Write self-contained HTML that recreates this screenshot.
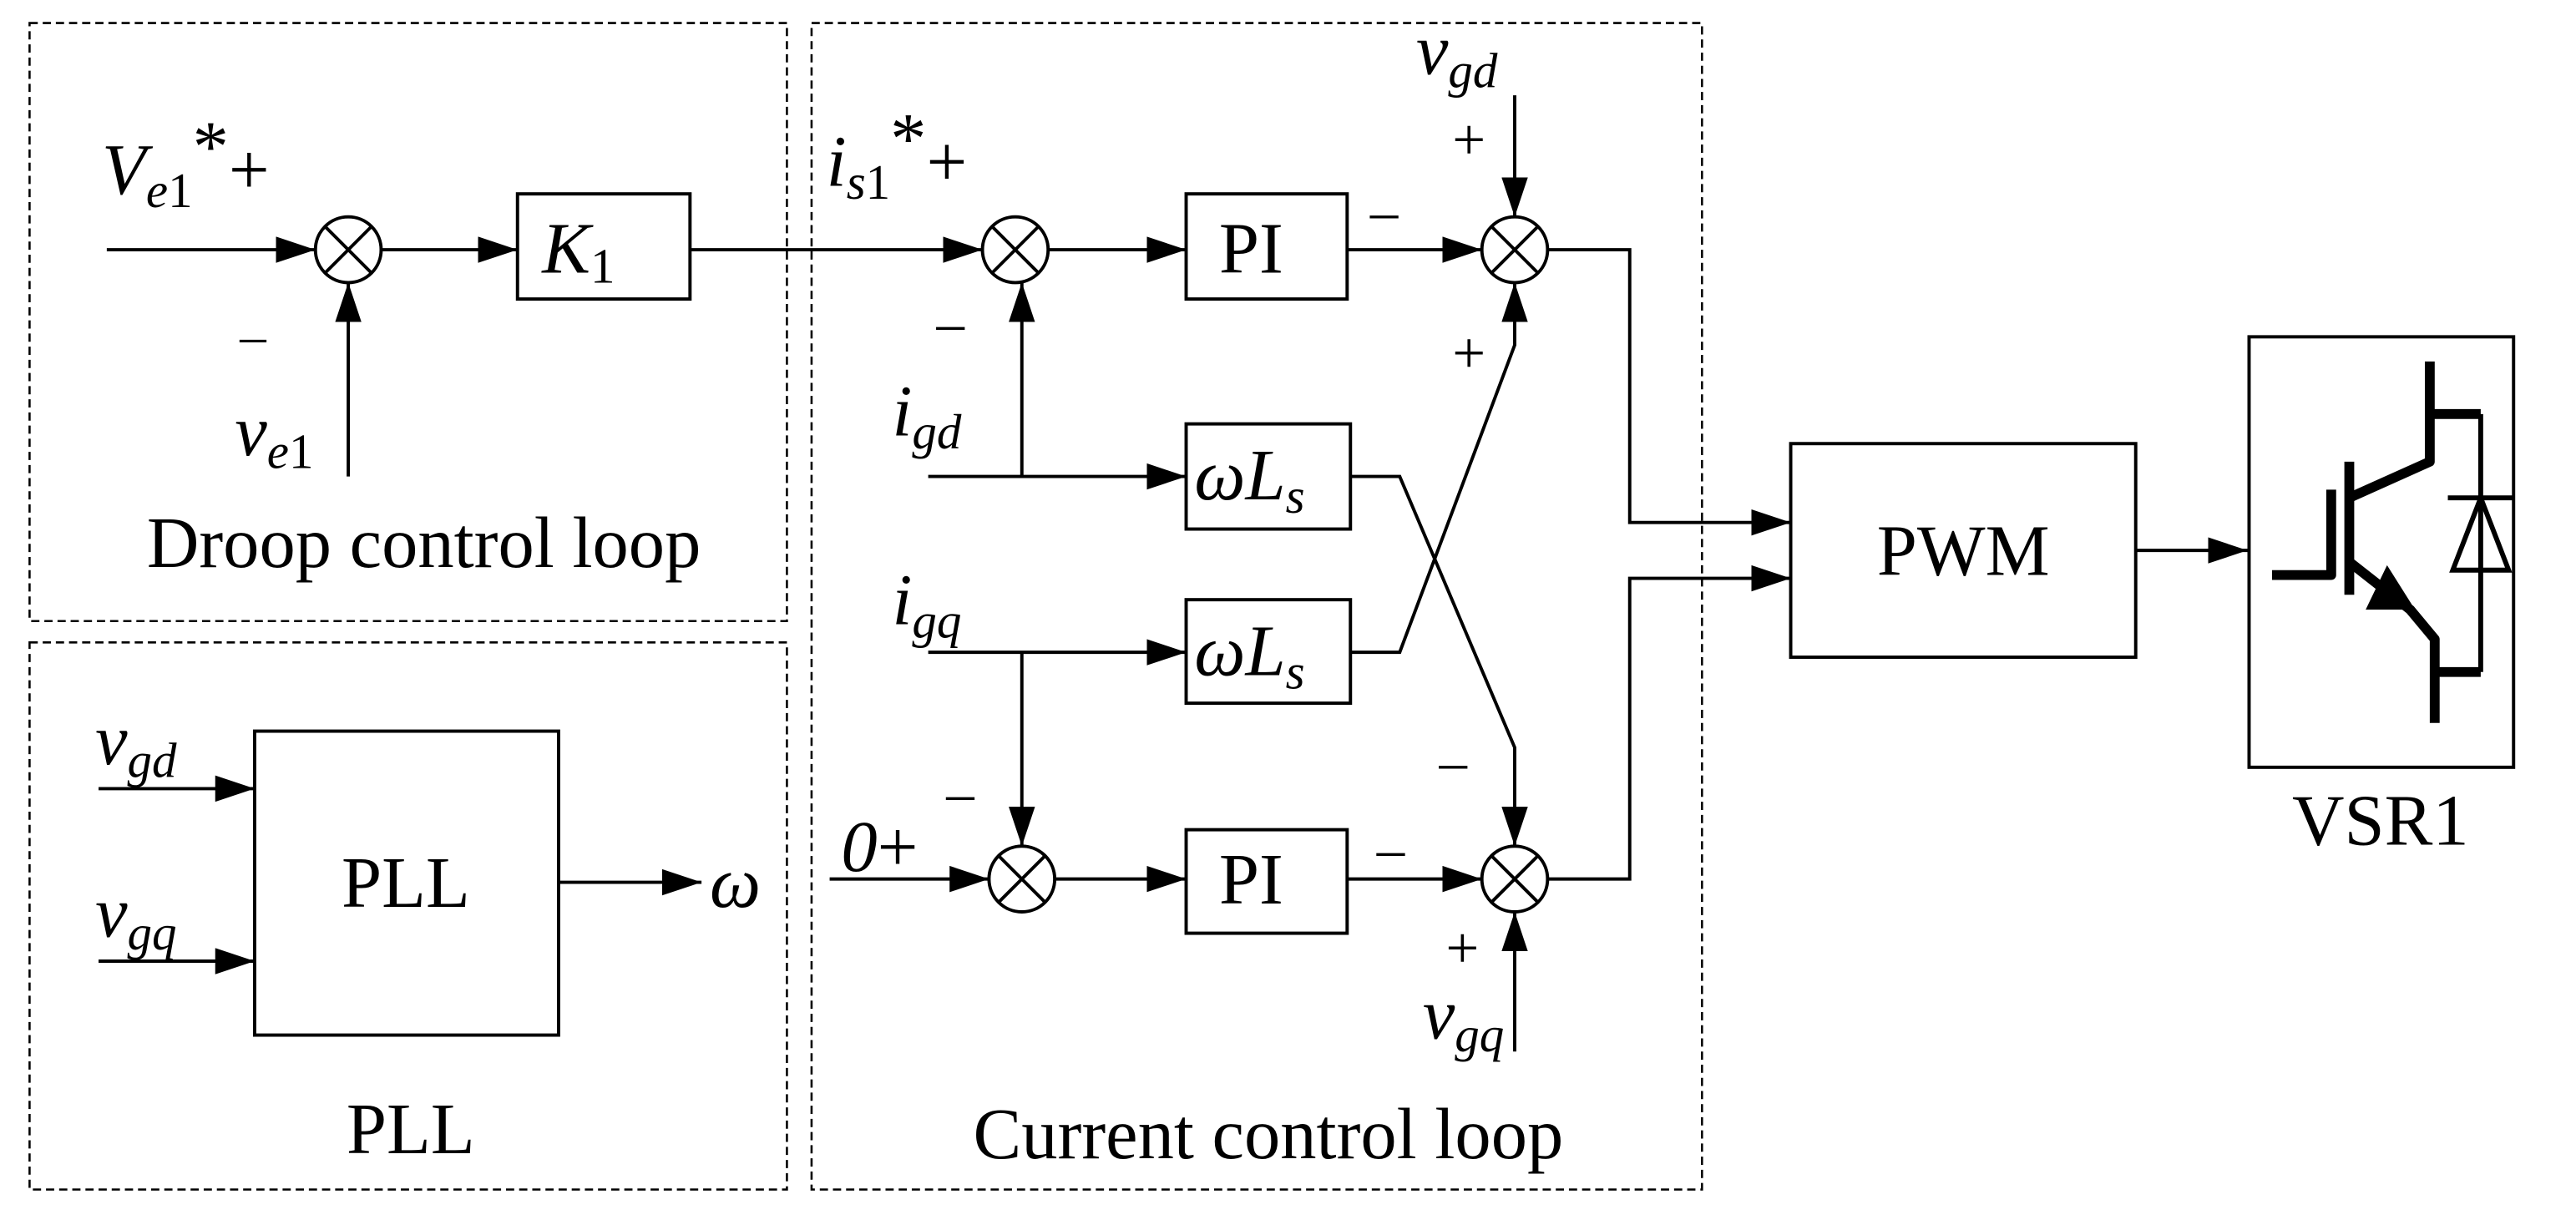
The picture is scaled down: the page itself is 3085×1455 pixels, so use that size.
<!DOCTYPE html>
<html><head><meta charset="utf-8"><style>html,body{margin:0;padding:0;background:#fff}svg{display:block}</style></head>
<body>
<svg width="3085" height="1455" viewBox="0 0 1568 739.5" preserveAspectRatio="none" xmlns="http://www.w3.org/2000/svg" font-family="Liberation Serif, serif">
<defs>
<marker id="b" viewBox="0 0 24 16" markerWidth="24" markerHeight="16" refX="24" refY="8" orient="auto" markerUnits="userSpaceOnUse"><path d="M0,0 L24,8 L0,16z"/></marker></defs>
<g fill="none" stroke="#000" stroke-width="1.3" stroke-dasharray="5,3">
<rect x="18" y="14" width="461" height="364"/><rect x="18" y="391" width="461" height="333"/><rect x="494" y="14" width="542" height="710"/></g>
<g fill="none" stroke="#000" stroke-width="2">
<line x1="65" y1="152" x2="192" y2="152" marker-end="url(#b)"/>
<circle cx="212" cy="152" r="20"/><path d="M198,138 L226,166 M226,138 L198,166"/>
<line x1="212" y1="290" x2="212" y2="172" marker-end="url(#b)"/>
<line x1="232" y1="152" x2="315" y2="152" marker-end="url(#b)"/>
<rect x="315" y="118" width="105" height="64"/>
<line x1="420" y1="152" x2="598" y2="152" marker-end="url(#b)"/>
<circle cx="618" cy="152" r="20"/><path d="M604,138 L632,166 M632,138 L604,166"/>
<line x1="638" y1="152" x2="722" y2="152" marker-end="url(#b)"/>
<rect x="722" y="118" width="98" height="64"/>
<line x1="820" y1="152" x2="902" y2="152" marker-end="url(#b)"/>
<circle cx="922" cy="152" r="20"/><path d="M908,138 L936,166 M936,138 L908,166"/>
<line x1="922" y1="58" x2="922" y2="132" marker-end="url(#b)"/>
<polyline points="942,152 992,152 992,318 1090,318" marker-end="url(#b)"/>
<line x1="565" y1="290" x2="722" y2="290" marker-end="url(#b)"/>
<line x1="622" y1="290" x2="622" y2="172" marker-end="url(#b)"/>
<rect x="722" y="258" width="100" height="64"/>
<polyline points="822,290 852,290 922,455 922,515" marker-end="url(#b)"/>
<line x1="565" y1="397" x2="722" y2="397" marker-end="url(#b)"/>
<rect x="722" y="365" width="100" height="63"/>
<polyline points="822,397 852,397 922,210 922,172" marker-end="url(#b)"/>
<line x1="622" y1="397" x2="622" y2="515" marker-end="url(#b)"/>
<line x1="505" y1="535" x2="602" y2="535" marker-end="url(#b)"/>
<circle cx="622" cy="535" r="20"/><path d="M608,521 L636,549 M636,521 L608,549"/>
<line x1="642" y1="535" x2="722" y2="535" marker-end="url(#b)"/>
<rect x="722" y="505" width="98" height="63"/>
<line x1="820" y1="535" x2="902" y2="535" marker-end="url(#b)"/>
<circle cx="922" cy="535" r="20"/><path d="M908,521 L936,549 M936,521 L908,549"/>
<line x1="922" y1="640" x2="922" y2="555" marker-end="url(#b)"/>
<polyline points="942,535 992,535 992,352 1090,352" marker-end="url(#b)"/>
<rect x="1090" y="270" width="210" height="130"/>
<line x1="1300" y1="335" x2="1368" y2="335" marker-end="url(#b)"/>
<rect x="1369" y="205" width="161" height="262"/>
<rect x="155" y="445" width="185" height="185"/>
<line x1="60" y1="480" x2="155" y2="480" marker-end="url(#b)"/>
<line x1="60" y1="585" x2="155" y2="585" marker-end="url(#b)"/>
<line x1="340" y1="537" x2="427" y2="537" marker-end="url(#b)"/>
</g>
<g fill="none" stroke="#000" stroke-width="6" stroke-linejoin="round">
<polyline points="1479,220 1479,281 1430,303"/>
<line x1="1479" y1="252" x2="1510" y2="252"/>
<line x1="1430" y1="281" x2="1430" y2="362"/>
<polyline points="1383,350 1419,350 1419,298"/>
<polyline points="1430,342 1467,371 1482,389 1482,440"/>
<line x1="1482" y1="409" x2="1510" y2="409"/>
</g>
<g fill="none" stroke="#000" stroke-width="3">
<line x1="1510" y1="252" x2="1510" y2="409"/>
<line x1="1490" y1="303" x2="1530" y2="303"/>
<polygon points="1510,303 1493,347 1527,347"/>
</g>
<polygon points="1453,344 1440,371 1470,371"/>
<g font-size="44" fill="#000">
<text x="62" y="118" font-style="italic">V<tspan font-size="30" dy="8">e</tspan><tspan font-size="30" font-style="normal">1</tspan><tspan dy="-22" font-style="normal">*</tspan><tspan dy="14" font-style="normal">+</tspan></text>
<text x="146" y="215" font-size="32">–</text>
<text x="143" y="277" font-style="italic">v<tspan font-size="30" dy="8">e</tspan><tspan font-size="30" font-style="normal">1</tspan></text>
<text x="330" y="166" font-style="italic">K<tspan font-size="30" dy="6" font-style="normal">1</tspan></text>
<text x="503" y="113" font-style="italic">i<tspan font-size="30" dy="8">s</tspan><tspan font-size="30" font-style="normal">1</tspan><tspan dy="-22" font-style="normal">*</tspan><tspan dy="14" font-style="normal">+</tspan></text>
<text x="742" y="166">PI</text><text x="742" y="550">PI</text>
<text x="834" y="140" font-size="34">–</text><text x="838" y="528" font-size="34">–</text>
<text x="862" y="45" font-style="italic">v<tspan font-size="30" dy="8">gd</tspan></text>
<text x="884" y="97" font-size="36">+</text>
<text x="884" y="227" font-size="36">+</text>
<text x="876" y="475" font-size="34">–</text>
<text x="880" y="589" font-size="36">+</text>
<text x="866" y="632" font-style="italic">v<tspan font-size="30" dy="8">gq</tspan></text>
<text x="570" y="208" font-size="34">–</text>
<text x="576" y="494" font-size="34">–</text>
<text x="543" y="265" font-style="italic">i<tspan font-size="30" dy="8">gd</tspan></text>
<text x="543" y="380" font-style="italic">i<tspan font-size="30" dy="8">gq</tspan></text>
<text x="727" y="304" font-style="italic">ωL<tspan font-size="30" dy="8">s</tspan></text>
<text x="727" y="411" font-style="italic">ωL<tspan font-size="30" dy="8">s</tspan></text>
<text x="512" y="530" font-style="italic">0<tspan font-style="normal">+</tspan></text>
<text x="1195" y="350" text-anchor="middle">PWM</text>
<text x="1449" y="514" text-anchor="middle">VSR1</text>
<text x="58" y="465" font-style="italic">v<tspan font-size="30" dy="8">gd</tspan></text>
<text x="58" y="570" font-style="italic">v<tspan font-size="30" dy="8">gq</tspan></text>
<text x="247" y="552" text-anchor="middle">PLL</text>
<text x="432" y="552" font-style="italic">ω</text>
<text x="250" y="702" text-anchor="middle">PLL</text>
<text x="258" y="345" text-anchor="middle">Droop control loop</text>
<text x="772" y="705" text-anchor="middle">Current control loop</text>
</g>
</svg>
</body></html>
